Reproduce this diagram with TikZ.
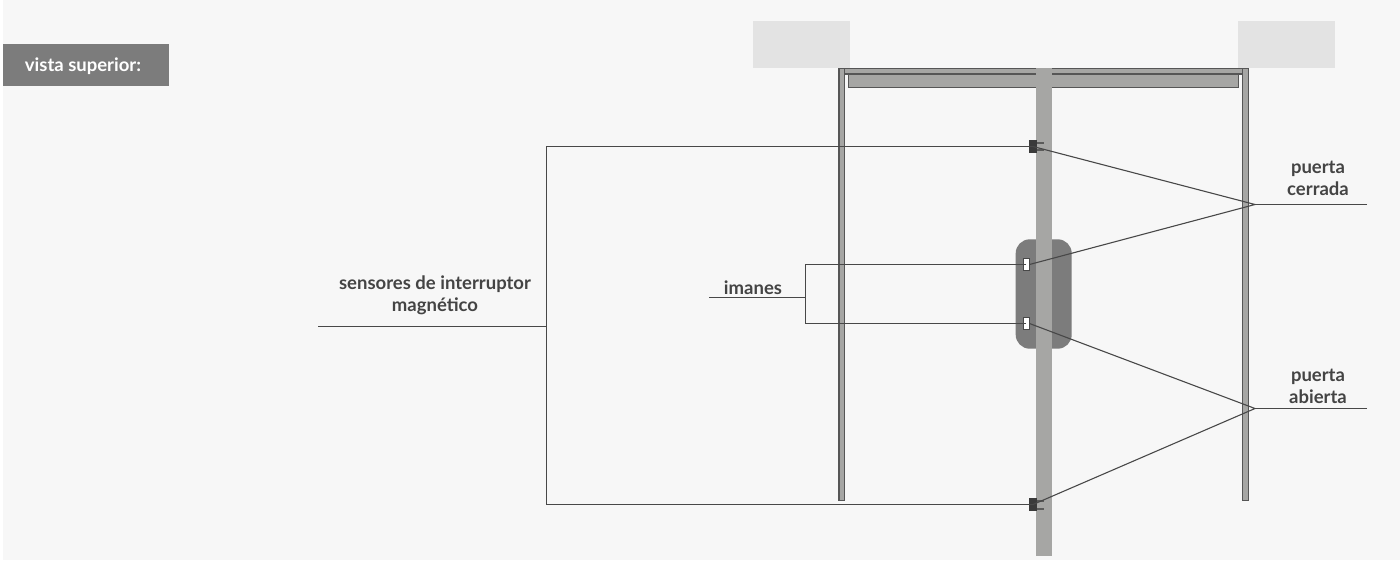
\documentclass[tikz,border=0pt]{standalone}
\usepackage{fontspec}
\setmainfont{Lato}
\definecolor{bgc}{HTML}{F7F7F7}
\definecolor{post}{HTML}{E3E3E3}
\definecolor{ln}{HTML}{484848}
\definecolor{doorc}{HTML}{A6A6A4}
\definecolor{darkg}{HTML}{7C7C7C}
\definecolor{sens}{HTML}{3A3A3A}
\definecolor{txt}{HTML}{444444}
\tikzset{
  x=1pt,y=-1pt,
  leader/.style={draw=ln,line width=1.1pt},
  rail/.style={fill=doorc,draw=ln!85!doorc,line width=1.2pt},
  lbl/.style={font=\fontsize{18.5}{22}\selectfont\bfseries,text=txt,align=center,inner sep=0pt},
  prong/.style={draw=ln!80!doorc,line width=2pt},
  magnet/.style={fill=white,draw=ln,line width=1pt},
  sensor/.style={fill=sens,draw=none},
}
\begin{document}
\begin{tikzpicture}
\useasboundingbox (0,0) rectangle (1400,562);
\fill[white] (0,0) rectangle (1400,562);
\fill[bgc] (3,0) rectangle (1400,560);
% posts
\fill[post] (753,21) rectangle (850,68);
\fill[post] (1238,21) rectangle (1335,68);
% frame
\draw[rail] (838.9,68.6) rectangle (844.4,500.5);
\draw[rail] (1242.6,68.6) rectangle (1248.4,500.5);
\draw[rail] (844.4,68.6) rectangle (1242.6,74);
\draw[rail] (848.7,74) rectangle (1238.2,87.4);
% magnet carrier
\fill[darkg,rounded corners=14pt] (1015.7,239.3) rectangle (1071.7,348.7);
% door
\fill[doorc] (1036,68) rectangle (1052,556);
% sensors
\draw[prong] (1036,142.7) -- (1043.5,142.7) (1036,150.3) -- (1043.5,150.3);
\draw[prong] (1036,500.5) -- (1043.5,500.5) (1036,508.5) -- (1043.5,508.5);
\node[sensor,minimum width=8pt,minimum height=13pt,inner sep=0pt] (s1) at (1033,146.5) {};
\node[sensor,minimum width=8pt,minimum height=13pt,inner sep=0pt] (s2) at (1033,504.5) {};
% junctions
\coordinate (jc) at (1255,204.5);
\coordinate (ja) at (1255,408.5);
\coordinate (ec) at (1367,204.5);
\coordinate (ea) at (1367,408.5);
\coordinate (ls) at (318,326.5);
\coordinate (js) at (546.5,326.5);
\coordinate (li) at (709,297.5);
\coordinate (ji) at (805.5,297.5);
% magnets
\node[magnet,minimum width=6pt,minimum height=11.5pt,inner sep=0pt] (m1) at (1026,264.5) {};
\node[magnet,minimum width=6pt,minimum height=11.5pt,inner sep=0pt] (m2) at (1026,323.5) {};
% leaders
\draw[leader] (ls) -- (js);
\draw[leader] (s1.center) -- (js |- s1.center) -- (js |- s2.center) -- (s2.center);
\draw[leader] (li) -- (ji);
\draw[leader] (m1.center) -- (ji |- m1.center) -- (ji |- m2.center) -- (m2.center);
\draw[leader] (ec) -- (jc);
\draw[leader] (ea) -- (ja);
\draw[leader] (s1.center) -- (jc) -- (m1.east);
\draw[leader] (m2.east) -- (ja) -- (s2.center);
% labels
\fill[darkg] (3,44) rectangle (169,86);
\node[lbl,text=white] (t0) at (83,66) {vista superior:};
\node[lbl] (t1) at (435,295) {sensores de interruptor\\magnético};
\node[lbl] (t2) at (753,287.5) {imanes};
\node[lbl] (t3) at (1318,178) {puerta\\cerrada};
\node[lbl] (t4) at (1318,386) {puerta\\abierta};
\end{tikzpicture}
\end{document}
